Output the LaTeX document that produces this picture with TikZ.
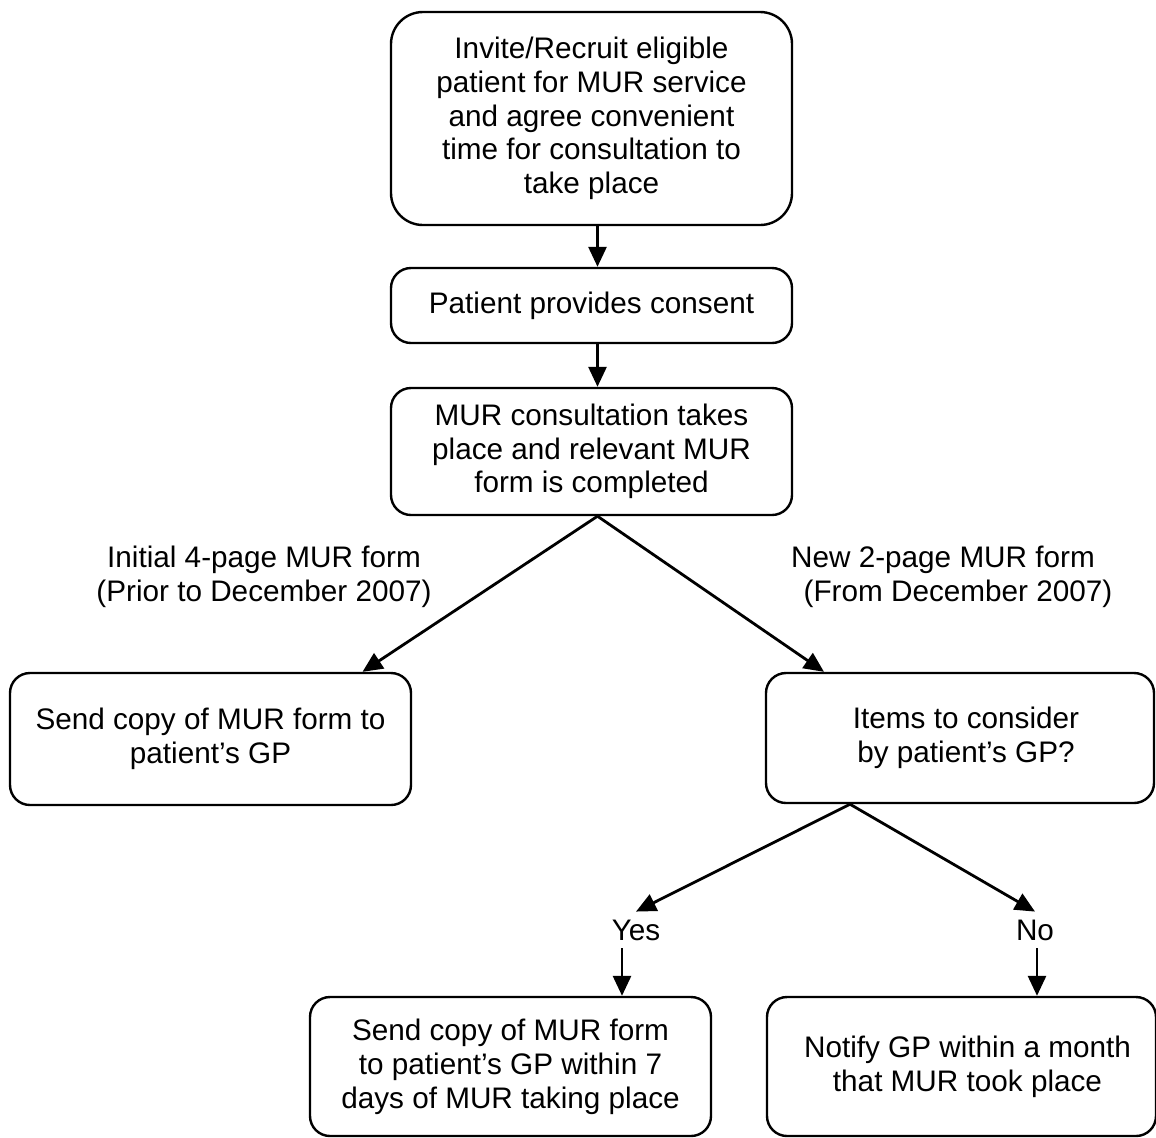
\documentclass[tikz,border=0pt]{standalone}
\usepackage{fontspec}
\setmainfont{Liberation Sans}
\usepackage{tikz}
\usetikzlibrary{calc,positioning,arrows.meta}

\tikzset{
    krok/.style={draw,line width=1.2pt,rounded corners=10pt,align=center,inner sep=0pt,minimum width=200.5pt},
    popis/.style={align=center},
}

\begin{document}
\begin{tikzpicture}[x=0.5pt,y=-0.5pt,>={Triangle[length=10pt,width=9pt]},line width=1.4pt,
    every node/.style={font=\fontsize{14.85}{16.9}\selectfont}]
    \useasboundingbox (0,0) rectangle (1156,1137);
    \node[krok,minimum height=106.5pt,rounded corners=16pt] (Invite) at (591.5,118.5) {Invite/Recruit eligible\\patient for MUR service\\and agree convenient\\time for consultation to\\take place};
    \node[krok,minimum height=37.5pt] (Consent) at (591.5,305.5) {Patient provides consent};
    \node[krok,minimum height=63.5pt] (Consult) at (591.5,451.5) {MUR consultation takes\\place and relevant MUR\\form is completed};
    \node[krok,minimum height=66pt] (SendGP) at (210.5,739) {Send copy of MUR form to\\patient’s GP};
    \node[krok,minimum width=194pt,minimum height=65pt] (Items) at (960,738) {\hspace*{6pt}Items to consider\\\hspace*{6pt}by patient’s GP?};
    \node[krok,minimum height=69.5pt] (SendWeek) at (510.5,1066.5) {Send copy of MUR form\\to patient’s GP within 7\\days of MUR taking place};
    \node[krok,minimum width=194.5pt,minimum height=69.5pt] (Notify) at (961.5,1066.5) {\hspace*{6pt}Notify GP within a month\\\hspace*{6pt}that MUR took place};
    %
    \node[popis] (Old) at (264,577) {Initial 4-page MUR form\\(Prior to December 2007)};
    \node[popis] (New) at (943,577) {New 2-page MUR form\\\hspace*{15pt}(From December 2007)};
    \node[] (Yes) at (636,930) {Yes};
    \node[] (No) at (1035,930) {No};
    %
    \draw[->] ([xshift=3pt]Invite.south) -- ([xshift=3pt]Consent.north);
    \draw[->] ([xshift=3pt]Consent.south) -- ([xshift=3pt]Consult.north);
    \draw[->] ([xshift=3pt]Consult.south) -- ([xshift=76pt]SendGP.north);
    \draw[->] ([xshift=3pt]Consult.south) -- ([xshift=-68pt]Items.north);
    \draw[->] ([xshift=-55pt]Items.south) -- (Yes.north);
    \draw[->] ([xshift=-55pt]Items.south) -- (No.north);
    \draw[->] ([xshift=-7pt]Yes.south) -- ([xshift=-7pt]Yes.south |- SendWeek.north);
    \draw[->] ([xshift=1pt]No.south) -- ([xshift=1pt]No.south |- Notify.north);
\end{tikzpicture}
\end{document}
